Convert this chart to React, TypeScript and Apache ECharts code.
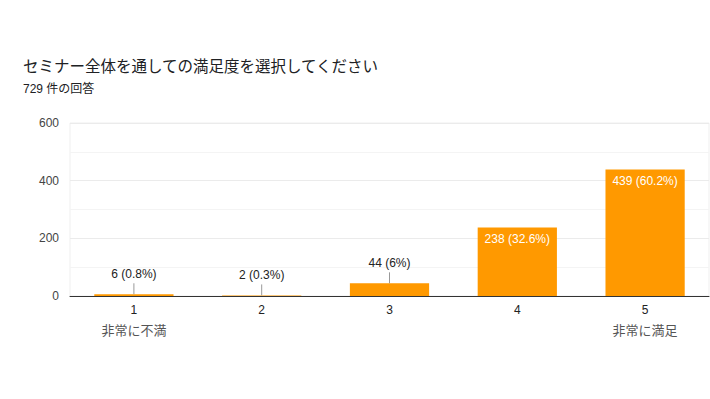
import React, { useEffect, useRef } from "react";
import * as echarts from "echarts";

const titleText = "セミナー全体を通しての満足度を選択してください";
const subtitleText = "729 件の回答";
const categories = ["1", "2", "3", "4", "5"];
const extraLabels = ["非常に不満", "", "", "", "非常に満足"];
const values = [6, 2, 44, 238, 439];
const percents = ["0.8%", "0.3%", "6%", "32.6%", "60.2%"];
const yTicks = [0, 200, 400, 600];

const FONT = '"Liberation Sans", Arial, "Noto Sans CJK JP", sans-serif';
const INSIDE_MIN = 100;

export default function App() {
  const ref = useRef<HTMLDivElement>(null);
  useEffect(() => {
    if (!ref.current) return;
    const chart = echarts.init(ref.current, undefined, { renderer: "svg" });
    const barData = values.map((v) => {
      const inside = v >= INSIDE_MIN;
      return {
        value: v,
        label: inside
          ? { position: "insideTop", color: "#ffffff", distance: 6 }
          : { position: "top", color: "#222222", distance: 14 },
      };
    });
    chart.setOption({
      animation: false,
      textStyle: { fontFamily: FONT },
      title: {
        text: titleText,
        subtext: subtitleText,
        left: 18,
        top: 54,
        itemGap: 8,
        textStyle: { fontSize: 15.5, fontWeight: "normal", color: "#202124", fontFamily: FONT },
        subtextStyle: { fontSize: 12, color: "#202124", fontFamily: FONT },
      },
      grid: {
        left: 70,
        right: 1,
        top: 123,
        bottom: 103,
        show: true,
        borderColor: "#efefef",
        borderWidth: 1,
      },
      xAxis: {
        type: "category",
        data: categories,
        axisLine: { show: true, lineStyle: { color: "#333333", width: 1 } },
        axisTick: { show: false },
        axisLabel: {
          margin: 5,
          interval: 0,
          formatter: (v: string, idx: number) => `{n|${v}}\n{d|${extraLabels[idx] || " "}}`,
          rich: {
            n: { fontSize: 12, lineHeight: 18, color: "#222222", fontFamily: FONT },
            d: { fontSize: 13, lineHeight: 22, color: "#555555", fontFamily: FONT },
          },
        },
      },
      yAxis: {
        type: "value",
        min: 0,
        max: yTicks[yTicks.length - 1],
        interval: 200,
        axisLine: { show: false },
        axisTick: { show: false },
        axisLabel: { fontSize: 12, color: "#444444", margin: 11, fontFamily: FONT },
        splitLine: { lineStyle: { color: "#ebebeb" } },
        minorTick: { show: false, splitNumber: 2 },
        minorSplitLine: { show: true, lineStyle: { color: "#f4f4f4" } },
      },
      series: [
        {
          type: "bar",
          data: barData,
          barWidth: "62%",
          itemStyle: { color: "#ff9900" },
          label: {
            show: true,
            fontSize: 12,
            fontFamily: FONT,
            formatter: (p: any) => `${values[p.dataIndex]} (${percents[p.dataIndex]})`,
          },
          z: 2,
        },
        {
          type: "custom",
          data: values.map((v, i) => [i, v]),
          z: 3,
          silent: true,
          renderItem: (params: any, api: any) => {
            const i = api.value(0);
            const v = api.value(1);
            if (v >= INSIDE_MIN) return null;
            const p = api.coord([i, v]);
            return {
              type: "line",
              shape: { x1: p[0], y1: p[1], x2: p[0], y2: p[1] - 11 },
              style: { stroke: "#999999", lineWidth: 1 },
            };
          },
        },
      ],
    });
    return () => chart.dispose();
  }, []);
  return (
    <div
      ref={ref}
      style={{ position: "fixed", left: 0, top: 0, width: 710, height: 399, background: "#fff" }}
    />
  );
}
